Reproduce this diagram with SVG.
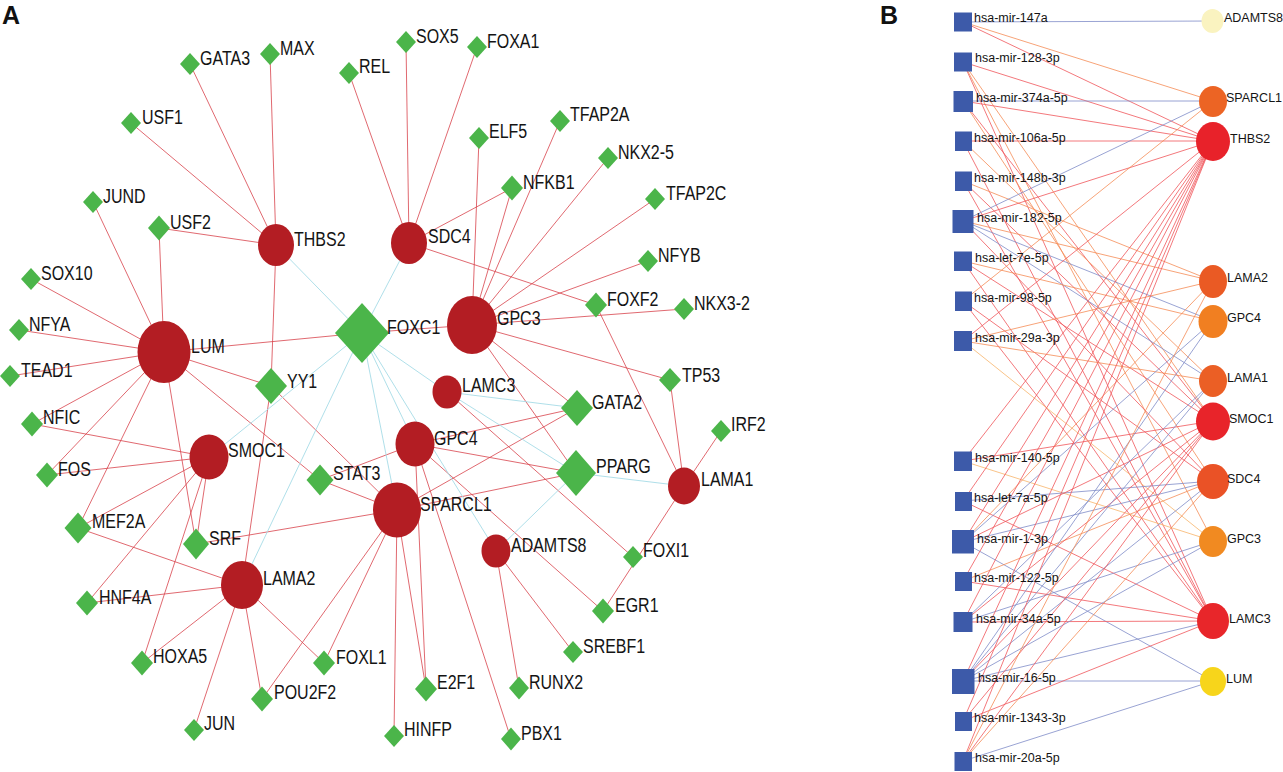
<svg xmlns="http://www.w3.org/2000/svg" width="1283" height="772" viewBox="0 0 1283 772">
<style>
.bg{fill:#ffffff}
.er{stroke:#d8434b;stroke-width:0.8;fill:none}
.ec{stroke:#a6dbe6;stroke-width:0.9;fill:none}
.g{fill:#b31d23}
.t{fill:#4bb54a}
.la{font-family:"Liberation Sans",Arial,Helvetica,sans-serif;font-size:16px;fill:#141414}
.lb{font-family:"Liberation Sans",Arial,Helvetica,sans-serif;font-size:12.5px;fill:#141414}
.pl{font-family:"Liberation Sans",Arial,Helvetica,sans-serif;font-size:25px;font-weight:bold;fill:#111}
.sq{fill:#3d5aa9}
.bb{stroke:#7f8bc8;stroke-width:0.8}
.br{stroke:#f0555a;stroke-width:0.8}
.bo{stroke:#f58b55;stroke-width:0.8}
.by{stroke:#f8b46a;stroke-width:0.8}
</style>
<rect class="bg" x="0" y="0" width="1283" height="772"/>
<text class="pl" x="2" y="24">A</text>
<text class="pl" x="880" y="24">B</text>

<g id="edges-A">
<line class="er" x1="276" y1="245" x2="190" y2="64"/>
<line class="er" x1="276" y1="245" x2="270" y2="54"/>
<line class="er" x1="276" y1="245" x2="131" y2="123"/>
<line class="er" x1="276" y1="245" x2="159" y2="228"/>
<line class="er" x1="276" y1="245" x2="271" y2="386"/>
<line class="er" x1="409" y1="243" x2="349" y2="73"/>
<line class="er" x1="409" y1="243" x2="406" y2="42"/>
<line class="er" x1="409" y1="243" x2="477" y2="47"/>
<line class="er" x1="409" y1="243" x2="512" y2="188"/>
<line class="er" x1="409" y1="243" x2="596" y2="305"/>
<line class="er" x1="472" y1="325" x2="479" y2="138"/>
<line class="er" x1="472" y1="325" x2="560" y2="121"/>
<line class="er" x1="472" y1="325" x2="512" y2="188"/>
<line class="er" x1="472" y1="325" x2="608" y2="158"/>
<line class="er" x1="472" y1="325" x2="655" y2="199"/>
<line class="er" x1="472" y1="325" x2="648" y2="261"/>
<line class="er" x1="472" y1="325" x2="684" y2="309"/>
<line class="er" x1="472" y1="325" x2="670" y2="380"/>
<line class="er" x1="472" y1="325" x2="362" y2="333"/>
<line class="er" x1="472" y1="325" x2="577" y2="408"/>
<line class="er" x1="472" y1="325" x2="576" y2="473"/>
<line class="er" x1="164" y1="352" x2="31" y2="279"/>
<line class="er" x1="164" y1="352" x2="19" y2="330"/>
<line class="er" x1="164" y1="352" x2="10" y2="376"/>
<line class="er" x1="164" y1="352" x2="93" y2="202"/>
<line class="er" x1="164" y1="352" x2="159" y2="228"/>
<line class="er" x1="164" y1="352" x2="362" y2="333"/>
<line class="er" x1="164" y1="352" x2="271" y2="386"/>
<line class="er" x1="164" y1="352" x2="32" y2="424"/>
<line class="er" x1="164" y1="352" x2="47" y2="475"/>
<line class="er" x1="164" y1="352" x2="78" y2="528"/>
<line class="er" x1="164" y1="352" x2="196" y2="544"/>
<line class="er" x1="164" y1="352" x2="320" y2="480"/>
<line class="er" x1="271" y1="386" x2="242" y2="585"/>
<line class="er" x1="271" y1="386" x2="397" y2="510"/>
<line class="er" x1="209" y1="457" x2="32" y2="424"/>
<line class="er" x1="209" y1="457" x2="47" y2="475"/>
<line class="er" x1="209" y1="457" x2="78" y2="528"/>
<line class="er" x1="209" y1="457" x2="87" y2="603"/>
<line class="er" x1="209" y1="457" x2="142" y2="663"/>
<line class="er" x1="209" y1="457" x2="196" y2="544"/>
<line class="er" x1="242" y1="585" x2="78" y2="528"/>
<line class="er" x1="242" y1="585" x2="87" y2="603"/>
<line class="er" x1="242" y1="585" x2="142" y2="663"/>
<line class="er" x1="242" y1="585" x2="194" y2="730"/>
<line class="er" x1="242" y1="585" x2="262" y2="699"/>
<line class="er" x1="242" y1="585" x2="324" y2="663"/>
<line class="er" x1="397" y1="510" x2="320" y2="480"/>
<line class="er" x1="397" y1="510" x2="196" y2="544"/>
<line class="er" x1="397" y1="510" x2="577" y2="408"/>
<line class="er" x1="397" y1="510" x2="576" y2="473"/>
<line class="er" x1="397" y1="510" x2="324" y2="663"/>
<line class="er" x1="397" y1="510" x2="262" y2="699"/>
<line class="er" x1="397" y1="510" x2="394" y2="736"/>
<line class="er" x1="397" y1="510" x2="426" y2="689"/>
<line class="er" x1="415" y1="444" x2="320" y2="480"/>
<line class="er" x1="415" y1="444" x2="577" y2="408"/>
<line class="er" x1="415" y1="444" x2="576" y2="473"/>
<line class="er" x1="415" y1="444" x2="426" y2="689"/>
<line class="er" x1="415" y1="444" x2="603" y2="611"/>
<line class="er" x1="415" y1="444" x2="511" y2="739"/>
<line class="er" x1="447" y1="392" x2="633" y2="557"/>
<line class="er" x1="496" y1="551" x2="519" y2="688"/>
<line class="er" x1="496" y1="551" x2="573" y2="652"/>
<line class="er" x1="684" y1="486" x2="670" y2="380"/>
<line class="er" x1="684" y1="486" x2="721" y2="431"/>
<line class="er" x1="684" y1="486" x2="603" y2="611"/>
<line class="er" x1="684" y1="486" x2="596" y2="305"/>
<line class="ec" x1="362" y1="333" x2="276" y2="245"/>
<line class="ec" x1="362" y1="333" x2="409" y2="243"/>
<line class="ec" x1="362" y1="333" x2="447" y2="392"/>
<line class="ec" x1="362" y1="333" x2="415" y2="444"/>
<line class="ec" x1="362" y1="333" x2="397" y2="510"/>
<line class="ec" x1="362" y1="333" x2="496" y2="551"/>
<line class="ec" x1="362" y1="333" x2="209" y2="457"/>
<line class="ec" x1="362" y1="333" x2="242" y2="585"/>
<line class="ec" x1="447" y1="392" x2="577" y2="408"/>
<line class="ec" x1="447" y1="392" x2="576" y2="473"/>
<line class="ec" x1="576" y1="473" x2="684" y2="486"/>
<line class="ec" x1="576" y1="473" x2="496" y2="551"/>
</g>

<g id="nodes-A">
<g id="a-THBS2"><ellipse class="g" cx="276" cy="245" rx="18" ry="21"/><text class="la" transform="translate(294 246) scale(1 1.22)">THBS2</text></g>
<g id="a-SDC4"><ellipse class="g" cx="409" cy="243" rx="18" ry="21"/><text class="la" transform="translate(428 243) scale(1 1.22)">SDC4</text></g>
<g id="a-LUM"><ellipse class="g" cx="164" cy="352" rx="26.5" ry="31"/><text class="la" transform="translate(191 353) scale(1 1.22)">LUM</text></g>
<g id="a-GPC3"><ellipse class="g" cx="472" cy="325" rx="25" ry="29"/><text class="la" transform="translate(497 325) scale(1 1.22)">GPC3</text></g>
<g id="a-LAMC3"><ellipse class="g" cx="447" cy="392" rx="14.5" ry="16.5"/><text class="la" transform="translate(462 392) scale(1 1.22)">LAMC3</text></g>
<g id="a-GPC4"><ellipse class="g" cx="415" cy="444" rx="19.5" ry="22.5"/><text class="la" transform="translate(434 445) scale(1 1.22)">GPC4</text></g>
<g id="a-SMOC1"><ellipse class="g" cx="209" cy="457" rx="19.5" ry="22.5"/><text class="la" transform="translate(228 457) scale(1 1.22)">SMOC1</text></g>
<g id="a-SPARCL1"><ellipse class="g" cx="397" cy="510" rx="24" ry="27.5"/><text class="la" transform="translate(420 510.5) scale(1 1.22)">SPARCL1</text></g>
<g id="a-ADAMTS8"><ellipse class="g" cx="496" cy="551" rx="14.5" ry="16.5"/><text class="la" transform="translate(511 551.5) scale(1 1.22)">ADAMTS8</text></g>
<g id="a-LAMA1"><ellipse class="g" cx="684" cy="486" rx="16" ry="18.5"/><text class="la" transform="translate(701 486) scale(1 1.22)">LAMA1</text></g>
<g id="a-LAMA2"><ellipse class="g" cx="242" cy="585" rx="21" ry="24"/><text class="la" transform="translate(263 585) scale(1 1.22)">LAMA2</text></g>

<g id="a-FOXC1"><polygon class="t" points="362,303 389,333 362,363 335,333"/><text class="la" transform="translate(387 334) scale(1 1.22)">FOXC1</text></g>
<g id="a-GATA2"><polygon class="t" points="577,390 593,408 577,426 561,408"/><text class="la" transform="translate(592 409) scale(1 1.22)">GATA2</text></g>
<g id="a-PPARG"><polygon class="t" points="576,450 596,473 576,496 556,473"/><text class="la" transform="translate(596 473) scale(1 1.22)">PPARG</text></g>
<g id="a-YY1"><polygon class="t" points="271,368 287,386 271,404 255,386"/><text class="la" transform="translate(287 388) scale(1 1.22)">YY1</text></g>
<g id="a-STAT3"><polygon class="t" points="320,464.5 333.5,480 320,495.5 306.5,480"/><text class="la" transform="translate(333 480) scale(1 1.22)">STAT3</text></g>
<g id="a-SRF"><polygon class="t" points="196,528.5 209,544 196,559.5 183,544"/><text class="la" transform="translate(209 544.5) scale(1 1.22)">SRF</text></g>
<g id="a-MEF2A"><polygon class="t" points="78,512.5 91.5,528 78,543.5 64.5,528"/><text class="la" transform="translate(92 528) scale(1 1.22)">MEF2A</text></g>
<g id="a-GATA3"><polygon class="t" points="190,53 200,64 190,75 180,64"/><text class="la" transform="translate(200 64.5) scale(1 1.22)">GATA3</text></g>
<g id="a-MAX"><polygon class="t" points="270,43 280,54 270,65 260,54"/><text class="la" transform="translate(280 55) scale(1 1.22)">MAX</text></g>
<g id="a-SOX5"><polygon class="t" points="406,31 416,42 406,53 396,42"/><text class="la" transform="translate(416 43) scale(1 1.22)">SOX5</text></g>
<g id="a-REL"><polygon class="t" points="349,62 359,73 349,84 339,73"/><text class="la" transform="translate(359 73) scale(1 1.22)">REL</text></g>
<g id="a-FOXA1"><polygon class="t" points="477,36 487,47 477,58 467,47"/><text class="la" transform="translate(487 48) scale(1 1.22)">FOXA1</text></g>
<g id="a-USF1"><polygon class="t" points="131,112 141,123 131,134 121,123"/><text class="la" transform="translate(142 123.5) scale(1 1.22)">USF1</text></g>
<g id="a-ELF5"><polygon class="t" points="479,127 489,138 479,149 469,138"/><text class="la" transform="translate(489 138) scale(1 1.22)">ELF5</text></g>
<g id="a-TFAP2A"><polygon class="t" points="560,110 570,121 560,132 550,121"/><text class="la" transform="translate(570 121) scale(1 1.22)">TFAP2A</text></g>
<g id="a-NKX2-5"><polygon class="t" points="608,147 618,158 608,169 598,158"/><text class="la" transform="translate(618 158.5) scale(1 1.22)">NKX2-5</text></g>
<g id="a-JUND"><polygon class="t" points="93,191 103,202 93,213 83,202"/><text class="la" transform="translate(103 203) scale(1 1.22)">JUND</text></g>
<g id="a-USF2"><polygon class="t" points="159,215.5 170,228 159,240.5 148,228"/><text class="la" transform="translate(170 228.5) scale(1 1.22)">USF2</text></g>
<g id="a-NFKB1"><polygon class="t" points="512,175.5 523,188 512,200.5 501,188"/><text class="la" transform="translate(523 189) scale(1 1.22)">NFKB1</text></g>
<g id="a-TFAP2C"><polygon class="t" points="655,188 665,199 655,210 645,199"/><text class="la" transform="translate(666 200) scale(1 1.22)">TFAP2C</text></g>
<g id="a-SOX10"><polygon class="t" points="31,268 41,279 31,290 21,279"/><text class="la" transform="translate(41 280) scale(1 1.22)">SOX10</text></g>
<g id="a-NFYB"><polygon class="t" points="648,250 658,261 648,272 638,261"/><text class="la" transform="translate(658 261.5) scale(1 1.22)">NFYB</text></g>
<g id="a-FOXF2"><polygon class="t" points="596,292.5 607,305 596,317.5 585,305"/><text class="la" transform="translate(607 305.5) scale(1 1.22)">FOXF2</text></g>
<g id="a-NKX3-2"><polygon class="t" points="684,298 694,309 684,320 674,309"/><text class="la" transform="translate(694 310) scale(1 1.22)">NKX3-2</text></g>
<g id="a-NFYA"><polygon class="t" points="19,319 29,330 19,341 9,330"/><text class="la" transform="translate(29 330.5) scale(1 1.22)">NFYA</text></g>
<g id="a-TEAD1"><polygon class="t" points="10,365 20,376 10,387 0,376"/><text class="la" transform="translate(21 377) scale(1 1.22)">TEAD1</text></g>
<g id="a-TP53"><polygon class="t" points="670,368 681,380 670,392 659,380"/><text class="la" transform="translate(682 381.5) scale(1 1.22)">TP53</text></g>
<g id="a-IRF2"><polygon class="t" points="721,420 731,431 721,442 711,431"/><text class="la" transform="translate(731 431) scale(1 1.22)">IRF2</text></g>
<g id="a-NFIC"><polygon class="t" points="32,411.5 43,424 32,436.5 21,424"/><text class="la" transform="translate(43 424) scale(1 1.22)">NFIC</text></g>
<g id="a-FOS"><polygon class="t" points="47,462.5 58,475 47,487.5 36,475"/><text class="la" transform="translate(58 475.5) scale(1 1.22)">FOS</text></g>
<g id="a-FOXI1"><polygon class="t" points="633,546 643,557 633,568 623,557"/><text class="la" transform="translate(643 556.5) scale(1 1.22)">FOXI1</text></g>
<g id="a-HNF4A"><polygon class="t" points="87,590.5 98,603 87,615.5 76,603"/><text class="la" transform="translate(99 603.5) scale(1 1.22)">HNF4A</text></g>
<g id="a-EGR1"><polygon class="t" points="603,598.5 614,611 603,623.5 592,611"/><text class="la" transform="translate(615 611.5) scale(1 1.22)">EGR1</text></g>
<g id="a-SREBF1"><polygon class="t" points="573,641 583,652 573,663 563,652"/><text class="la" transform="translate(583 652.5) scale(1 1.22)">SREBF1</text></g>
<g id="a-HOXA5"><polygon class="t" points="142,650.5 153,663 142,675.5 131,663"/><text class="la" transform="translate(153 663) scale(1 1.22)">HOXA5</text></g>
<g id="a-FOXL1"><polygon class="t" points="324,650.5 335,663 324,675.5 313,663"/><text class="la" transform="translate(336 663.5) scale(1 1.22)">FOXL1</text></g>
<g id="a-POU2F2"><polygon class="t" points="262,686.5 273,699 262,711.5 251,699"/><text class="la" transform="translate(274 699) scale(1 1.22)">POU2F2</text></g>
<g id="a-E2F1"><polygon class="t" points="426,676.5 437,689 426,701.5 415,689"/><text class="la" transform="translate(437 689) scale(1 1.22)">E2F1</text></g>
<g id="a-RUNX2"><polygon class="t" points="519,676.5 529,688 519,699.5 509,688"/><text class="la" transform="translate(529 688.5) scale(1 1.22)">RUNX2</text></g>
<g id="a-JUN"><polygon class="t" points="194,719 204,730 194,741 184,730"/><text class="la" transform="translate(204 730) scale(1 1.22)">JUN</text></g>
<g id="a-HINFP"><polygon class="t" points="394,725 404,736 394,747 384,736"/><text class="la" transform="translate(404 736) scale(1 1.22)">HINFP</text></g>
<g id="a-PBX1"><polygon class="t" points="511,727.5 521,739 511,750.5 501,739"/><text class="la" transform="translate(521 740) scale(1 1.22)">PBX1</text></g>
</g>

<g id="edges-B">
<line class="bb" x1="963" y1="22" x2="1213" y2="21"/>
<line class="br" x1="963" y1="22" x2="1213" y2="141"/>
<line class="bo" x1="963" y1="22" x2="1213" y2="101"/>
<line class="br" x1="963" y1="62" x2="1213" y2="141"/>
<line class="br" x1="963" y1="62" x2="1213" y2="621"/>
<line class="bo" x1="963" y1="62" x2="1213" y2="541"/>
<line class="bo" x1="963" y1="62" x2="1213" y2="421"/>
<line class="bb" x1="963" y1="101" x2="1213" y2="101"/>
<line class="br" x1="963" y1="101" x2="1213" y2="141"/>
<line class="br" x1="963" y1="101" x2="1213" y2="421"/>
<line class="bo" x1="963" y1="101" x2="1213" y2="481"/>
<line class="br" x1="963" y1="141" x2="1213" y2="141"/>
<line class="br" x1="963" y1="141" x2="1213" y2="621"/>
<line class="bo" x1="963" y1="141" x2="1213" y2="381"/>
<line class="bo" x1="963" y1="181" x2="1213" y2="281"/>
<line class="br" x1="963" y1="181" x2="1213" y2="421"/>
<line class="br" x1="963" y1="181" x2="1213" y2="621"/>
<line class="bb" x1="963" y1="221" x2="1213" y2="101"/>
<line class="br" x1="963" y1="221" x2="1213" y2="141"/>
<line class="bb" x1="963" y1="221" x2="1213" y2="321"/>
<line class="bb" x1="963" y1="221" x2="1213" y2="381"/>
<line class="bo" x1="963" y1="221" x2="1213" y2="281"/>
<line class="br" x1="963" y1="221" x2="1213" y2="481"/>
<line class="bo" x1="963" y1="261" x2="1213" y2="321"/>
<line class="br" x1="963" y1="261" x2="1213" y2="621"/>
<line class="br" x1="963" y1="261" x2="1213" y2="421"/>
<line class="bo" x1="963" y1="301" x2="1213" y2="101"/>
<line class="br" x1="963" y1="301" x2="1213" y2="621"/>
<line class="br" x1="963" y1="301" x2="1213" y2="481"/>
<line class="bo" x1="963" y1="341" x2="1213" y2="281"/>
<line class="bo" x1="963" y1="341" x2="1213" y2="381"/>
<line class="by" x1="963" y1="341" x2="1213" y2="541"/>
<line class="br" x1="963" y1="341" x2="1213" y2="141"/>
<line class="br" x1="963" y1="461" x2="1213" y2="421"/>
<line class="by" x1="963" y1="461" x2="1213" y2="541"/>
<line class="br" x1="963" y1="461" x2="1213" y2="141"/>
<line class="br" x1="963" y1="501" x2="1213" y2="621"/>
<line class="br" x1="963" y1="501" x2="1213" y2="141"/>
<line class="bb" x1="963" y1="501" x2="1213" y2="481"/>
<line class="bb" x1="963" y1="542" x2="1213" y2="681"/>
<line class="bb" x1="963" y1="542" x2="1213" y2="481"/>
<line class="bb" x1="963" y1="542" x2="1213" y2="321"/>
<line class="br" x1="963" y1="542" x2="1213" y2="421"/>
<line class="br" x1="963" y1="542" x2="1213" y2="141"/>
<line class="bo" x1="963" y1="542" x2="1213" y2="281"/>
<line class="br" x1="963" y1="581" x2="1213" y2="621"/>
<line class="br" x1="963" y1="581" x2="1213" y2="141"/>
<line class="bo" x1="963" y1="581" x2="1213" y2="481"/>
<line class="br" x1="963" y1="622" x2="1213" y2="621"/>
<line class="bb" x1="963" y1="622" x2="1213" y2="541"/>
<line class="br" x1="963" y1="622" x2="1213" y2="421"/>
<line class="bb" x1="963" y1="622" x2="1213" y2="381"/>
<line class="br" x1="963" y1="622" x2="1213" y2="141"/>
<line class="bb" x1="963" y1="681" x2="1213" y2="681"/>
<line class="bb" x1="963" y1="681" x2="1213" y2="621"/>
<line class="bb" x1="963" y1="681" x2="1213" y2="541"/>
<line class="bb" x1="963" y1="681" x2="1213" y2="481"/>
<line class="bb" x1="963" y1="681" x2="1213" y2="321"/>
<line class="bb" x1="963" y1="681" x2="1213" y2="381"/>
<line class="br" x1="963" y1="681" x2="1213" y2="421"/>
<line class="br" x1="963" y1="681" x2="1213" y2="141"/>
<line class="br" x1="963" y1="721" x2="1213" y2="621"/>
<line class="br" x1="963" y1="721" x2="1213" y2="421"/>
<line class="br" x1="963" y1="721" x2="1213" y2="141"/>
<line class="bb" x1="963" y1="761" x2="1213" y2="681"/>
<line class="br" x1="963" y1="761" x2="1213" y2="421"/>
<line class="br" x1="963" y1="761" x2="1213" y2="141"/>
<line class="bo" x1="963" y1="761" x2="1213" y2="481"/>
<line class="bo" x1="963" y1="761" x2="1213" y2="281"/>
</g>

<g id="nodes-B">
<g id="b-mir-147a"><rect class="sq" x="954" y="12.5" width="18" height="19"/><text class="lb" x="974" y="22">hsa-mir-147a</text></g>
<g id="b-mir-128-3p"><rect class="sq" x="954" y="52.5" width="18" height="19"/><text class="lb" x="975" y="62">hsa-mir-128-3p</text></g>
<g id="b-mir-374a-5p"><rect class="sq" x="953.5" y="91" width="19.5" height="21"/><text class="lb" x="976" y="102">hsa-mir-374a-5p</text></g>
<g id="b-mir-106a-5p"><rect class="sq" x="955" y="131.5" width="17" height="19.5"/><text class="lb" x="974" y="142">hsa-mir-106a-5p</text></g>
<g id="b-mir-148b-3p"><rect class="sq" x="955" y="171.5" width="17" height="19.5"/><text class="lb" x="974" y="182">hsa-mir-148b-3p</text></g>
<g id="b-mir-182-5p"><rect class="sq" x="952.5" y="210" width="21" height="23"/><text class="lb" x="977" y="222">hsa-mir-182-5p</text></g>
<g id="b-let-7e-5p"><rect class="sq" x="954" y="251.5" width="18" height="19.5"/><text class="lb" x="975" y="262">hsa-let-7e-5p</text></g>
<g id="b-mir-98-5p"><rect class="sq" x="955" y="291.5" width="17" height="19.5"/><text class="lb" x="974" y="302">hsa-mir-98-5p</text></g>
<g id="b-mir-29a-3p"><rect class="sq" x="954" y="331" width="18" height="20"/><text class="lb" x="975" y="342">hsa-mir-29a-3p</text></g>
<g id="b-mir-140-5p"><rect class="sq" x="954" y="451.5" width="18" height="19.5"/><text class="lb" x="975" y="462">hsa-mir-140-5p</text></g>
<g id="b-let-7a-5p"><rect class="sq" x="955" y="492" width="17" height="19"/><text class="lb" x="974" y="502">hsa-let-7a-5p</text></g>
<g id="b-mir-1-3p"><rect class="sq" x="952" y="530" width="22" height="23.5"/><text class="lb" x="977" y="543">hsa-mir-1-3p</text></g>
<g id="b-mir-122-5p"><rect class="sq" x="955" y="572" width="17" height="19"/><text class="lb" x="974" y="582">hsa-mir-122-5p</text></g>
<g id="b-mir-34a-5p"><rect class="sq" x="953.5" y="612" width="19" height="20"/><text class="lb" x="976" y="623">hsa-mir-34a-5p</text></g>
<g id="b-mir-16-5p"><rect class="sq" x="952" y="669" width="22.5" height="25"/><text class="lb" x="978" y="682">hsa-mir-16-5p</text></g>
<g id="b-mir-1343-3p"><rect class="sq" x="955" y="712" width="17" height="19"/><text class="lb" x="974" y="722">hsa-mir-1343-3p</text></g>
<g id="b-mir-20a-5p"><rect class="sq" x="954.5" y="752" width="17.5" height="19"/><text class="lb" x="975" y="762">hsa-mir-20a-5p</text></g>

<g id="b-ADAMTS8"><ellipse cx="1212.5" cy="21" rx="11" ry="12" fill="#faf3c0"/><text class="lb" x="1224" y="22">ADAMTS8</text></g>
<g id="b-SPARCL1"><ellipse cx="1213" cy="101.5" rx="14" ry="15.5" fill="#ec6424"/><text class="lb" x="1226" y="102">SPARCL1</text></g>
<g id="b-THBS2"><ellipse cx="1213" cy="141.5" rx="17" ry="19.5" fill="#e8222a"/><text class="lb" x="1230" y="143">THBS2</text></g>
<g id="b-LAMA2"><ellipse cx="1213" cy="281.5" rx="14" ry="16.5" fill="#ea5a24"/><text class="lb" x="1227" y="282">LAMA2</text></g>
<g id="b-GPC4"><ellipse cx="1213" cy="321.5" rx="14.5" ry="16.5" fill="#f17f21"/><text class="lb" x="1227" y="322">GPC4</text></g>
<g id="b-LAMA1"><ellipse cx="1213" cy="381" rx="14" ry="16" fill="#eb5f25"/><text class="lb" x="1227" y="382">LAMA1</text></g>
<g id="b-SMOC1"><ellipse cx="1213" cy="421.5" rx="17" ry="19" fill="#e8242a"/><text class="lb" x="1229" y="423">SMOC1</text></g>
<g id="b-SDC4"><ellipse cx="1213" cy="481.5" rx="16" ry="17.5" fill="#ea5226"/><text class="lb" x="1227" y="483">SDC4</text></g>
<g id="b-GPC3"><ellipse cx="1213" cy="541.5" rx="14" ry="15.5" fill="#f18a21"/><text class="lb" x="1227" y="543">GPC3</text></g>
<g id="b-LAMC3"><ellipse cx="1213" cy="621" rx="16" ry="18" fill="#e8262a"/><text class="lb" x="1229" y="623">LAMC3</text></g>
<g id="b-LUM"><ellipse cx="1213" cy="681.5" rx="13" ry="14.5" fill="#f7d51b"/><text class="lb" x="1226" y="683">LUM</text></g>
</g>
</svg>
